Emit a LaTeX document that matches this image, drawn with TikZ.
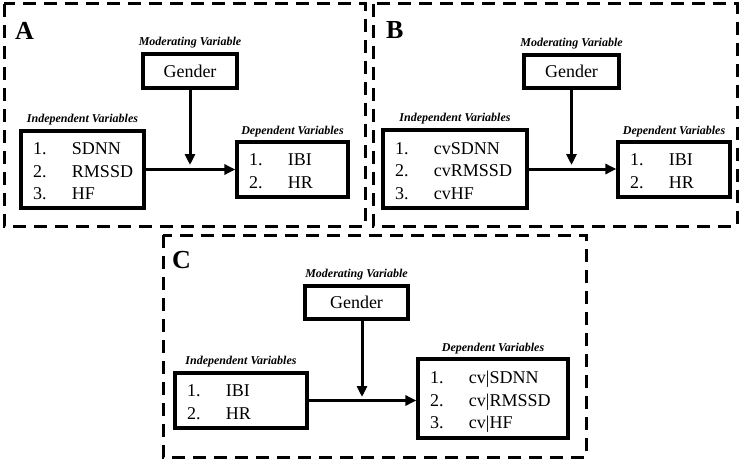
\documentclass[tikz,border=0pt]{standalone}
\usepackage{fontspec}
\setmainfont{Liberation Serif}
\usetikzlibrary{arrows.meta}
\tikzset{
  panel/.style={draw, line width=3pt, dash pattern=on 13pt off 8pt},
  listbox/.style={draw, line width=3.2pt, inner xsep=12pt, inner ysep=0pt, align=left,
    font=\fontsize{18}{22.5}\selectfont},
  genbox/.style={draw, line width=3.2pt, inner sep=0pt, font=\fontsize{18}{22}\selectfont},
  lab/.style={anchor=base, inner sep=0pt, font=\fontsize{12}{14}\selectfont\bfseries\itshape},
  letter/.style={anchor=base west, inner sep=0pt, font=\fontsize{26}{30}\selectfont\bfseries},
  arr/.style={line width=3pt, -{Triangle[length=11pt,width=10pt]}},
}
\newcommand{\lst}[1]{\raisebox{-3pt}[\height][\depth]{\begin{tabular}{@{}p{39pt}@{}l@{}}#1\end{tabular}}}
\begin{document}
\begin{tikzpicture}[x=1pt,y=-1pt]
\useasboundingbox (0,0) rectangle (742,460);
% panels
\draw[panel] (4,4) rectangle (365,226);
\draw[panel] (373,4) rectangle (737,226);
\draw[panel] (163,235) rectangle (586,457);
% ---------------- A
\node[letter] (lA) at (15,40) {A};
\node[genbox, minimum width=94pt, minimum height=34pt] (gA) at (190,71) {Gender};
\node[listbox, text width=99pt, minimum height=77pt] (iA) at (82.5,169.5) {\lst{1. & SDNN\\ 2. & RMSSD\\ 3. & HF}};
\node[listbox, text width=87pt, minimum height=55pt] (dA) at (292.5,169.5) {\lst{1. & IBI\\ 2. & HR}};
\node[lab] (mlA) at ([yshift=7pt]gA.north) {Moderating Variable};
\node[lab] (ilA) at ([yshift=7pt]iA.north) {Independent Variables};
\node[lab] (dlA) at ([yshift=6pt]dA.north) {Dependent Variables};
\coordinate (cA) at (190,165);
\draw[arr] (iA.east) -- (dA.west);
\draw[arr] (gA.south) -- (cA);
% ---------------- B
\node[letter] (lB) at (386,39) {B};
\node[genbox, minimum width=95pt, minimum height=33pt] (gB) at (571.5,71.5) {Gender};
\node[listbox, text width=120pt, minimum height=78pt] (iB) at (455,169) {\lst{1. & cvSDNN\\ 2. & cvRMSSD\\ 3. & cvHF}};
\node[listbox, text width=88pt, minimum height=55pt] (dB) at (674,169.5) {\lst{1. & IBI\\ 2. & HR}};
\node[lab] (mlB) at ([yshift=7pt]gB.north) {Moderating Variable};
\node[lab] (ilB) at ([yshift=7pt]iB.north) {Independent Variables};
\node[lab] (dlB) at ([yshift=6pt]dB.north) {Dependent Variables};
\coordinate (cB) at (571.5,165);
\draw[arr] (iB.east) -- (dB.west |- iB.east);
\draw[arr] (gB.south) -- (cB);
% ---------------- C
\node[letter] (lC) at (172,268) {C};
\node[genbox, minimum width=103pt, minimum height=33pt] (gC) at (356.5,302.5) {Gender};
\node[listbox, text width=108pt, minimum height=55pt] (iC) at (241,400.5) {\lst{1. & IBI\\ 2. & HR}};
\node[listbox, text width=126pt, minimum height=79pt] (dC) at (493,398.5) {\lst{1. & cv|SDNN\\ 2. & cv|RMSSD\\ 3. & cv|HF}};
\node[lab] (mlC) at ([yshift=7pt]gC.north) {Moderating Variable};
\node[lab] (ilC) at ([yshift=7pt]iC.north) {Independent Variables};
\node[lab] (dlC) at ([yshift=6pt]dC.north) {Dependent Variables};
\coordinate (sC) at (362,319);
\coordinate (cC) at (362,397);
\draw[arr] (iC.east) -- (dC.west |- iC.east);
\draw[arr] (sC) -- (cC);
\end{tikzpicture}
\end{document}
